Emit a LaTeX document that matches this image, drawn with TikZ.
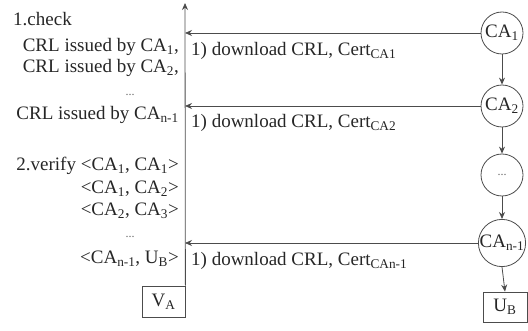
\documentclass[tikz,border=0pt]{standalone}
\usepackage{fontspec}
\setmainfont{Liberation Serif}
\usetikzlibrary{arrows.meta}
\newcommand{\mysb}[1]{\textsubscript{#1}}
\begin{document}
\begin{tikzpicture}[x=1pt,y=-1pt,
  font=\fontsize{19}{22}\selectfont,
  every node/.style={text=black!85},
  txt/.style={inner sep=0pt, text height=13pt, text depth=5pt},
  lt/.style={txt, anchor=east},
  ca/.style={circle, draw=black!70, line width=0.8pt, minimum size=42pt, inner sep=0pt},
  ebox/.style={rectangle, draw=black!70, line width=0.8pt, inner sep=0pt},
  ln/.style={draw=black!70, line width=0.8pt},
  arr/.style={ln, -{Stealth[length=7pt,width=6pt]}},
  dots/.style={inner sep=0pt, font=\fontsize{12}{12}\selectfont, text=black!60}
]
\useasboundingbox (0,0) rectangle (528,331);

% CA chain
\node[ca] (c1) at (502,33) {CA\mysb{1}};
\node[ca] (c2) at (502,106) {CA\mysb{2}};
\node[ca] (c3) at (502,175) {\fontsize{12}{12}\selectfont\textcolor{black!60}{...}};
\node[ca] (c4) at (502,243) {CA\mysb{n-1}};
\node[ebox, minimum width=44pt, minimum height=30pt] (ub) at (505,307) {U\mysb{B}};
\draw[arr] (c1.south) -- (c2.north);
\draw[arr] (c2.south) -- (c3.north);
\draw[arr] (c3.south) -- (c4.north);
\draw[arr] (c4.south) -- (ub.north);

% verifier
\node[ebox, minimum width=43pt, minimum height=31pt] (va) at (163.5,301.5) {V\mysb{A}};
\coordinate (top) at (185,3);
\draw[arr] (va.north east) -- (top);

% downloads
\coordinate (h1) at (185,33);
\coordinate (h2) at (185,106);
\coordinate (h3) at (185,243);
\draw[arr] (c1.west) -- (h1);
\draw[arr] (c2.west) -- (h2);
\draw[arr] (c4.west) -- (h3);
\node[txt, anchor=west] (d1) at (191,52) {1) download CRL, Cert\mysb{CA1}};
\node[txt, anchor=west] (d2) at (191,124) {1) download CRL, Cert\mysb{CA2}};
\node[txt, anchor=west] (d3) at (191,262) {1) download CRL, Cert\mysb{CAn-1}};

% left text
\node[txt, anchor=west] (t0) at (13,22) {1.check};
\node[lt] (t1) at (179,48) {CRL issued by CA\mysb{1},};
\node[lt] (t2) at (179,69) {CRL issued by CA\mysb{2},};
\node[dots] (t3) at (130,95) {...};
\node[lt] (t4) at (179,116) {CRL issued by CA\mysb{n-1}};
\node[lt] (t5) at (179,167) {2.verify <CA\mysb{1}, CA\mysb{1}>};
\node[lt] (t6) at (179,190) {<CA\mysb{1}, CA\mysb{2}>};
\node[lt] (t7) at (179,212) {<CA\mysb{2}, CA\mysb{3}>};
\node[dots] (t8) at (130,237) {...};
\node[lt] (t9) at (179,260) {<CA\mysb{n-1}, U\mysb{B}>};
\end{tikzpicture}
\end{document}
